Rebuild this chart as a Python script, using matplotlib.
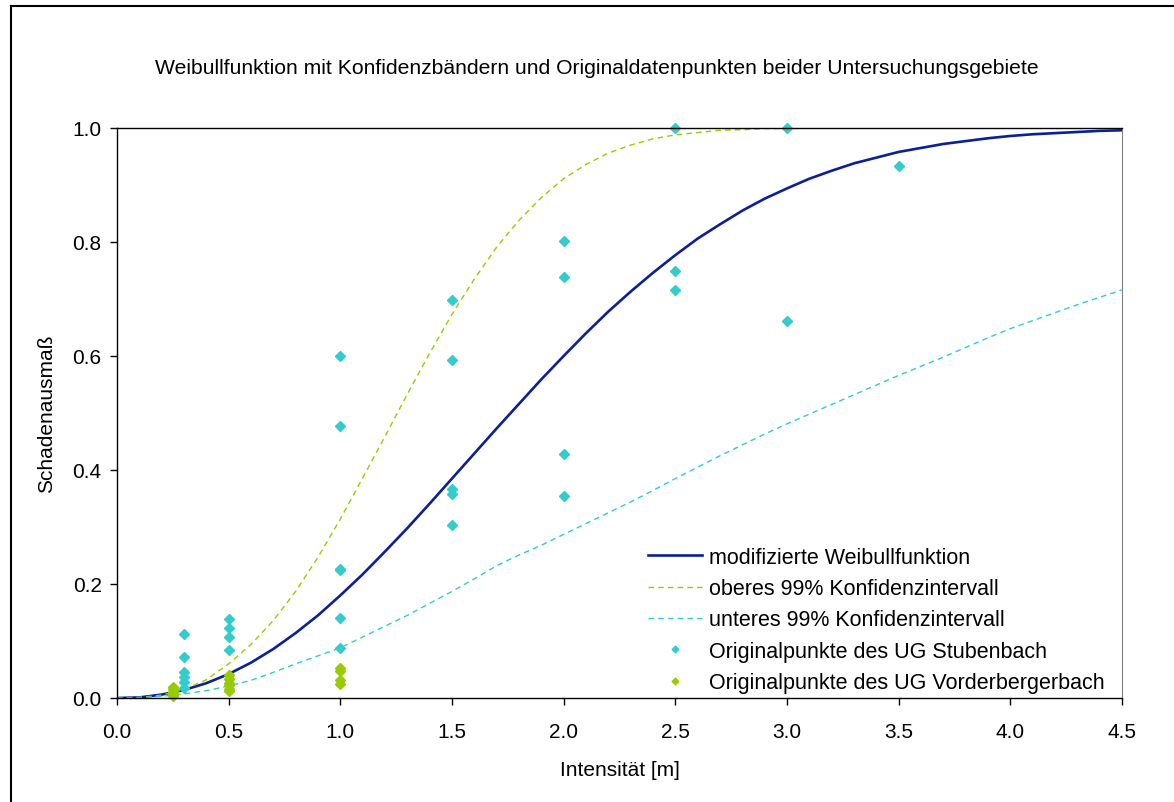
import numpy as np
import matplotlib
matplotlib.use("Agg")
import matplotlib.pyplot as plt
from matplotlib.lines import Line2D

plt.rcParams['font.family'] = ['Liberation Sans', 'DejaVu Sans']

x_kurve = [0.0, 0.1, 0.2, 0.3, 0.4, 0.5, 0.6, 0.7, 0.8, 0.9,
           1.0, 1.1, 1.2, 1.3, 1.4, 1.5, 1.6, 1.7, 1.8, 1.9,
           2.0, 2.1, 2.2, 2.3, 2.4, 2.5, 2.6, 2.7, 2.8, 2.9,
           3.0, 3.1, 3.2, 3.3, 3.4, 3.5, 3.6, 3.7, 3.8, 3.9,
           4.0, 4.1, 4.2, 4.3, 4.4, 4.5]
weibull = [0.000, 0.001, 0.006, 0.014, 0.026, 0.042, 0.062, 0.086, 0.114, 0.145,
           0.180, 0.217, 0.257, 0.298, 0.341, 0.385, 0.429, 0.473, 0.516, 0.559,
           0.600, 0.640, 0.678, 0.713, 0.746, 0.777, 0.806, 0.831, 0.855, 0.876,
           0.894, 0.911, 0.925, 0.938, 0.948, 0.958, 0.965, 0.972, 0.977, 0.982,
           0.986, 0.989, 0.991, 0.993, 0.995, 0.996]
oberes_ki = [0.000, 0.001, 0.005, 0.015, 0.032, 0.060, 0.094, 0.136, 0.187, 0.247,
             0.314, 0.386, 0.459, 0.533, 0.605, 0.673, 0.735, 0.791, 0.838, 0.878,
             0.911, 0.936, 0.956, 0.970, 0.981, 0.988, 0.992, 0.996, 0.997, 0.999,
             0.999, 1.000, 1.000, 1.000, 1.000, 1.000, 1.000, 1.000, 1.000, 1.000,
             1.000, 1.000, 1.000, 1.000, 1.000, 1.000]
unteres_ki = [0.000, 0.001, 0.003, 0.007, 0.013, 0.021, 0.031, 0.045, 0.060, 0.074,
              0.088, 0.107, 0.126, 0.145, 0.166, 0.187, 0.209, 0.232, 0.251, 0.268,
              0.287, 0.306, 0.325, 0.344, 0.364, 0.385, 0.405, 0.425, 0.444, 0.463,
              0.481, 0.498, 0.515, 0.532, 0.549, 0.566, 0.582, 0.598, 0.615, 0.632,
              0.648, 0.662, 0.676, 0.690, 0.703, 0.716]

# Originalpunkte UG Stubenbach
stub_x = [0.3, 0.3, 0.3, 0.3, 0.3, 0.3,
          0.5, 0.5, 0.5, 0.5,
          1.0, 1.0, 1.0, 1.0, 1.0, 1.0,
          1.5, 1.5, 1.5, 1.5, 1.5,
          2.0, 2.0, 2.0, 2.0,
          2.5, 2.5, 2.5,
          3.0, 3.0,
          3.5]
stub_y = [0.112, 0.072, 0.046, 0.037, 0.028, 0.017,
          0.138, 0.123, 0.107, 0.085,
          0.600, 0.477, 0.227, 0.224, 0.140, 0.088,
          0.698, 0.593, 0.367, 0.358, 0.303,
          0.802, 0.739, 0.428, 0.354,
          1.000, 0.749, 0.716,
          1.000, 0.661,
          0.933]

# Originalpunkte UG Vorderbergerbach
vorder_x = [0.25, 0.25, 0.25, 0.25, 0.25,
            0.5, 0.5, 0.5, 0.5, 0.5, 0.5,
            1.0, 1.0, 1.0, 1.0]
vorder_y = [0.020, 0.015, 0.011, 0.007, 0.004,
            0.040, 0.033, 0.027, 0.022, 0.016, 0.012,
            0.053, 0.047, 0.032, 0.025]

blau = '#0b1f99'
gruen = '#99cc00'
tuerkis = '#33cccc'

fig = plt.figure(figsize=(11.74, 8.03), dpi=100)
ax = fig.add_axes([117/1174, 1 - 699/803, (1122 - 117)/1174, (699 - 129)/803])

ax.plot(x_kurve, weibull, color=blau, lw=1.9, label='modifizierte Weibullfunktion')
ax.plot(x_kurve, oberes_ki, color=gruen, lw=1.0, ls=(0, (4, 3)),
        label='oberes 99% Konfidenzintervall')
ax.plot(x_kurve, unteres_ki, color=tuerkis, lw=1.0, ls=(0, (4, 3)),
        label='unteres 99% Konfidenzintervall')
ax.plot(stub_x, stub_y, ls='none', marker='D', ms=5.2, color=tuerkis, mec=tuerkis,
        label='Originalpunkte des UG Stubenbach', clip_on=False)
ax.plot(vorder_x, vorder_y, ls='none', marker='D', ms=5.2, color=gruen, mec=gruen,
        label='Originalpunkte des UG Vorderbergerbach', clip_on=False)

ax.set_xlim(0, 4.5)
ax.set_ylim(0, 1.0)
ax.set_xticks(np.arange(0, 4.51, 0.5))
ax.set_yticks(np.arange(0, 1.01, 0.2))
ax.set_xticklabels(['%.1f' % v for v in np.arange(0, 4.51, 0.5)])
ax.set_yticklabels(['%.1f' % v for v in np.arange(0, 1.01, 0.2)])
ax.tick_params(direction='out', length=5, width=1, labelsize=15)
ax.tick_params(axis='x', pad=12)
ax.tick_params(axis='y', pad=6)

for s in ['left', 'bottom', 'top']:
    ax.spines[s].set_color('black')
    ax.spines[s].set_linewidth(1.0)
ax.spines['right'].set_color('#808080')

ax.set_xlabel('Intensität [m]', fontsize=15, labelpad=14)
ax.set_ylabel('Schadenausmaß', fontsize=15, labelpad=12)
fig.text(597/1174, 1 - 68/803, 'Weibullfunktion mit Konfidenzbändern und Originaldatenpunkten beider Untersuchungsgebiete',
         ha='center', va='center', fontsize=15.2)

leg = ax.legend(loc='lower right', bbox_to_anchor=(0.996, -0.014), frameon=False, fontsize=15.5,
                handlelength=2.5, handletextpad=0.35, labelspacing=0.48,
                borderaxespad=0.2, markerscale=0.65, numpoints=1)

# Rahmen um die Grafik
fig.add_artist(Line2D([11/1174, 11/1174], [0, 1 - 7/803], color='black', lw=1.5))
fig.add_artist(Line2D([11/1174, 1], [1 - 7/803, 1 - 7/803], color='black', lw=1.5))

fig.savefig('out.png', dpi=100)
